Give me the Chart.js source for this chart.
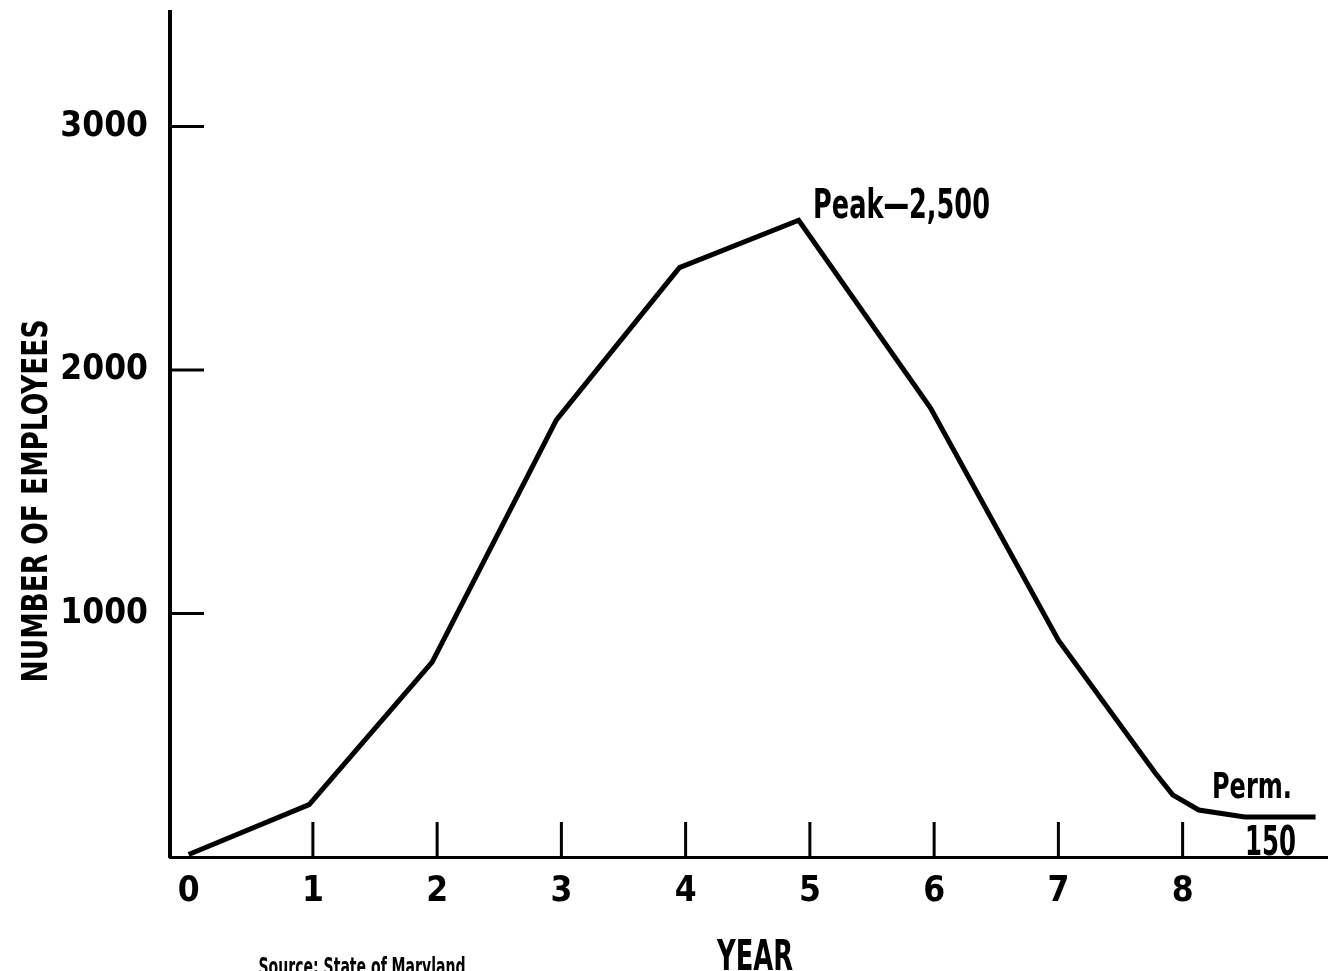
<!doctype html>
<html>
<head>
<script src="https://cdn.jsdelivr.net/npm/chart.js@4/dist/chart.umd.min.js"></script>
<style>
  body { margin: 0; background: #fff; }
</style>
</head>
<body>
<canvas id="c1" width="1328" height="971"></canvas>
<script>
  // values
  let years = [0, 0.97, 1.96, 2.96, 3.95, 4.91, 5.97, 7.0, 7.78, 7.92, 8.13, 8.5, 9.07];
  let employees = [10, 215, 800, 1795, 2420, 2615, 1845, 890, 345, 255, 193, 164, 164];
  let xTicks = [0, 1, 2, 3, 4, 5, 6, 7, 8];
  let yTicks = [1000, 2000, 3000];
  let fam = "'Liberation Sans Narrow','DejaVu Sans Condensed',sans-serif";

  // tick marks point into the plot, titles and notes drawn as text
  let extras = {
    id: 'extras',
    afterDraw(chart) {
      let c = chart.ctx, a = chart.chartArea;
      let x = chart.scales.x, y = chart.scales.y;
      c.save();
      c.strokeStyle = '#000';
      c.lineWidth = 3;
      c.beginPath();
      yTicks.forEach(v => {
        let py = y.getPixelForValue(v);
        c.moveTo(a.left, py); c.lineTo(a.left + 34, py);
      });
      xTicks.forEach(v => {
        if (v == 0) return;
        let px = x.getPixelForValue(v);
        c.moveTo(px, a.bottom); c.lineTo(px, a.bottom - 35);
      });
      c.stroke();

      c.fillStyle = '#000';
      c.textBaseline = 'alphabetic';
      c.textAlign = 'left';
      c.font = 'bold 40px ' + fam;
      c.fillText('Peak\u20142,500', 813, 218, 177);
      c.font = 'bold 36px ' + fam;
      c.fillText('Perm.', 1212, 798, 80);
      c.font = 'bold 40px ' + fam;
      c.fillText('150', 1245, 855, 51);

      c.textAlign = 'center';
      c.font = 'bold 42px ' + fam;
      c.fillText('YEAR', 755, 970, 76);
      c.font = 'bold 24px ' + fam;
      c.fillText('Source: State of Maryland', 362, 975, 207);

      c.translate(47, 501);
      c.rotate(-Math.PI / 2);
      c.font = 'bold 36px ' + fam;
      c.fillText('NUMBER OF EMPLOYEES', 0, 0, 363);
      c.restore();
    }
  };

  let chart1 = new Chart(document.getElementById('c1'), {
    type: 'line',
    data: {
      datasets: [{
        data: years.map((v, i) => ({ x: v, y: employees[i] })),
        borderColor: '#000',
        borderWidth: 5,
        pointRadius: 0,
        tension: 0,
        fill: false
      }]
    },
    options: {
      responsive: false,
      devicePixelRatio: 1,
      animation: false,
      layout: { padding: { top: 12, right: 0, left: 0, bottom: 0 } },
      plugins: { legend: { display: false }, tooltip: { enabled: false } },
      scales: {
        x: {
          type: 'linear',
          min: -0.15,
          max: 9.17,
          afterBuildTicks: s => { s.ticks = xTicks.map(v => ({ value: v })); },
          afterFit: s => { s.height = 114; s.paddingLeft = 0; s.paddingRight = 0; },
          grid: { display: false, drawTicks: false },
          border: { display: true, color: '#000', width: 3 },
          ticks: {
            color: '#000',
            padding: 14,
            maxRotation: 0,
            autoSkip: false,
            callback: v => String(v),
            font: { family: fam, size: 35, weight: 'bold' }
          }
        },
        y: {
          min: 0,
          max: 3470,
          afterBuildTicks: s => { s.ticks = yTicks.map(v => ({ value: v })); },
          afterFit: s => { s.width = 170; s.paddingTop = 0; s.paddingBottom = 0; },
          grid: { display: false, drawTicks: false },
          border: { display: true, color: '#000', width: 4 },
          ticks: {
            color: '#000',
            padding: 22,
            callback: v => String(v),
            font: { family: fam, size: 35, weight: 'bold' }
          }
        }
      }
    },
    plugins: [extras]
  });
</script>
</body>
</html>
